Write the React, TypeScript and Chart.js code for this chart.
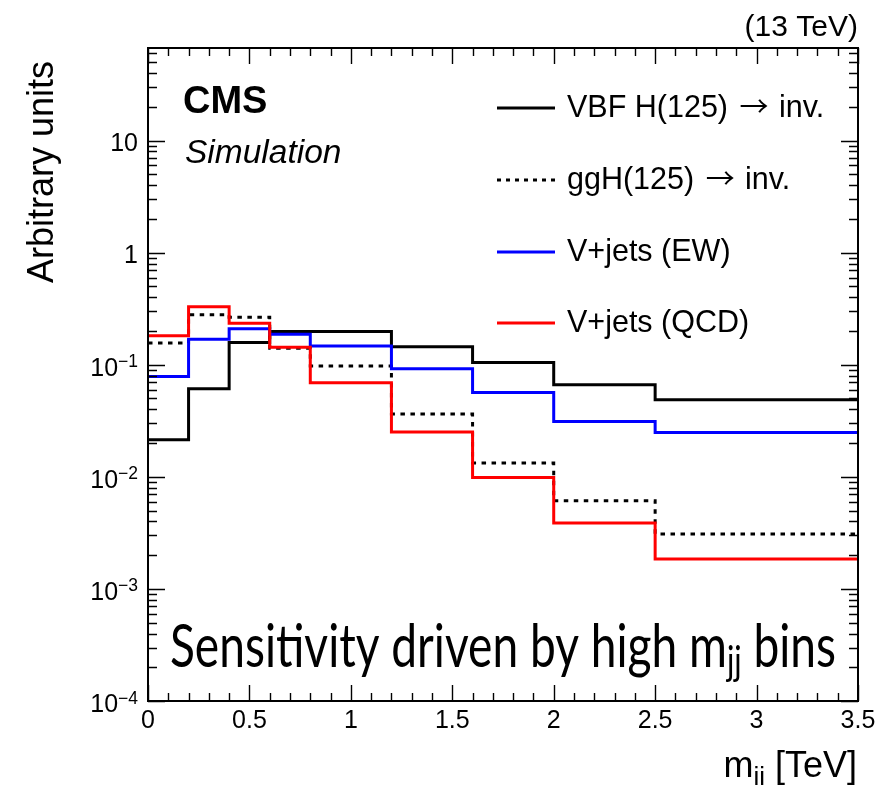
import React, { useEffect, useRef } from "react";
import { Chart, registerables } from "chart.js";

Chart.register(...registerables);

// ---- data ----
const binEdges = [0, 0.2, 0.4, 0.6, 0.8, 1.2, 1.6, 2.0, 2.5, 3.5];
const vbfValues = [0.0214, 0.061, 0.158, 0.198, 0.198, 0.145, 0.105, 0.0662, 0.0487];
const gghValues = [0.156, 0.279, 0.266, 0.14, 0.0977, 0.0363, 0.0133, 0.00612, 0.00309];
const ewValues = [0.0785, 0.169, 0.209, 0.187, 0.147, 0.0919, 0.0566, 0.0312, 0.0249];
const qcdValues = [0.181, 0.33, 0.235, 0.1435, 0.069, 0.0251, 0.00988, 0.00387, 0.00185];
const seriesLabels = ["VBF H(125) \u2192 inv.", "ggH(125) \u2192 inv.", "V+jets (EW)", "V+jets (QCD)"];
const seriesColors = ["#000000", "#000000", "#0000ff", "#ff0000"];
const xTickValues = [0, 0.5, 1, 1.5, 2, 2.5, 3, 3.5];
const xTickLabels = ["0", "0.5", "1", "1.5", "2", "2.5", "3", "3.5"];
const yDecades = [-4, -3, -2, -1, 0, 1];
const xMin = 0;
const xMax = 3.5;
const yMin = 1e-4;
const yMax = 67;

const SANS = "'Liberation Sans', Arial, Helvetica, sans-serif";
const ARROW_FONT = "'Noto Sans CJK JP', 'DejaVu Sans', sans-serif";

function toPoints(vals: number[]) {
  return binEdges.map((x, i) => ({ x, y: vals[Math.min(i, vals.length - 1)] }));
}

// draws text, rendering the arrow glyph in a wider font
function drawLegendText(ctx: CanvasRenderingContext2D, text: string, x: number, y: number, size: number) {
  const parts = text.split("\u2192");
  let cx = x;
  parts.forEach((p, i) => {
    ctx.font = `${size}px ${SANS}`;
    ctx.fillText(p, cx, y);
    cx += ctx.measureText(p).width;
    if (i < parts.length - 1) {
      cx += 3;
      ctx.font = `${size * 0.95}px ${ARROW_FONT}`;
      ctx.fillText("\u2192", cx, y);
      cx += ctx.measureText("\u2192").width + 2;
    }
  });
}

const decorPlugin = {
  id: "decor",
  afterDraw(chart: any) {
    const ctx = chart.ctx as CanvasRenderingContext2D;
    const area = chart.chartArea;
    const xs = chart.scales.x;
    const ys = chart.scales.y;
    ctx.save();
    ctx.fillStyle = "#000";
    ctx.strokeStyle = "#000";

    // frame
    ctx.lineWidth = 2;
    ctx.strokeRect(area.left, area.top, area.right - area.left, area.bottom - area.top);

    // x ticks
    ctx.lineWidth = 1.4;
    ctx.beginPath();
    for (let i = 0; i <= 35; i++) {
      const v = i / 10;
      const px = Math.round(xs.getPixelForValue(v)) + 0.5;
      const len = i % 5 === 0 ? 16 : 8;
      ctx.moveTo(px, area.bottom);
      ctx.lineTo(px, area.bottom - len);
      ctx.moveTo(px, area.top);
      ctx.lineTo(px, area.top + len);
    }
    // y ticks
    for (let d = -4; d <= 1; d++) {
      for (let m = 1; m <= 9; m++) {
        const v = m * Math.pow(10, d);
        if (v > yMax) break;
        const py = Math.round(ys.getPixelForValue(v)) + 0.5;
        const len = m === 1 ? 17 : 9;
        ctx.moveTo(area.left, py);
        ctx.lineTo(area.left + len, py);
        ctx.moveTo(area.right, py);
        ctx.lineTo(area.right - len, py);
      }
    }
    ctx.stroke();

    // x tick labels
    ctx.font = `25px ${SANS}`;
    ctx.textAlign = "center";
    ctx.textBaseline = "alphabetic";
    xTickValues.forEach((v, i) => {
      ctx.fillText(xTickLabels[i], xs.getPixelForValue(v), area.bottom + 27);
    });

    // y tick labels
    const labelRight = area.left - 10;
    yDecades.forEach((d) => {
      const py = ys.getPixelForValue(Math.pow(10, d));
      ctx.textAlign = "right";
      if (d === 0 || d === 1) {
        ctx.font = `25px ${SANS}`;
        ctx.fillText(d === 0 ? "1" : "10", labelRight, py + 10.5);
      } else {
        const exp = "\u2212" + Math.abs(d);
        ctx.font = `17.5px ${SANS}`;
        const ew = ctx.measureText(exp).width;
        ctx.fillText(exp, labelRight, py + 2.5);
        ctx.font = `25px ${SANS}`;
        ctx.fillText("10", labelRight - ew, py + 11);
      }
    });

    // y title
    ctx.save();
    ctx.translate(53, 61);
    ctx.rotate(-Math.PI / 2);
    ctx.font = `36px ${SANS}`;
    ctx.textAlign = "right";
    ctx.fillText("Arbitrary units", 0, 0);
    ctx.restore();

    // x title: m_jj [TeV]
    {
      ctx.textAlign = "left";
      const big = `36px ${SANS}`;
      const small = `26px ${SANS}`;
      ctx.font = big;
      const w1 = ctx.measureText("m").width;
      const w3 = ctx.measureText(" [TeV]").width;
      ctx.font = small;
      const w2 = ctx.measureText("jj").width;
      const total = w1 + w2 + w3;
      let x = 857 - total;
      const base = 777;
      ctx.font = big;
      ctx.fillText("m", x, base);
      x += w1;
      ctx.font = small;
      ctx.fillText("jj", x, base + 8);
      x += w2;
      ctx.font = big;
      ctx.fillText(" [TeV]", x, base);
    }

    // (13 TeV)
    ctx.font = `30px ${SANS}`;
    ctx.textAlign = "right";
    ctx.fillText("(13 TeV)", 858, 36);

    // CMS / Simulation
    ctx.textAlign = "left";
    ctx.font = `bold 38px ${SANS}`;
    ctx.fillText("CMS", 183, 113);
    ctx.font = `italic 33.5px ${SANS}`;
    ctx.fillText("Simulation", 185, 163);

    // legend
    const lineY = [108, 180, 252, 323];
    seriesLabels.forEach((lab, i) => {
      ctx.save();
      ctx.strokeStyle = seriesColors[i];
      ctx.lineWidth = 3;
      if (i === 1) ctx.setLineDash([4, 5]);
      ctx.beginPath();
      ctx.moveTo(497, lineY[i]);
      ctx.lineTo(555, lineY[i]);
      ctx.stroke();
      ctx.restore();
      ctx.textAlign = "left";
      drawLegendText(ctx, lab, 567, lineY[i] + 8.5, 30.5);
    });

    // big annotation
    {
      const mainF = "60px Lato, 'Noto Sans', sans-serif";
      const subF = "40px Lato, 'Noto Sans', sans-serif";
      const p1 = "Sensitivity driven by high m";
      const p2 = "jj";
      const p3 = " bins";
      ctx.font = mainF;
      const a = ctx.measureText(p1).width;
      const c = ctx.measureText(p3).width;
      ctx.font = subF;
      const b = ctx.measureText(p2).width;
      const total = a + b + c;
      const sx = 666 / total;
      ctx.save();
      ctx.translate(170, 667);
      ctx.scale(sx, 1);
      ctx.textAlign = "left";
      ctx.font = mainF;
      ctx.fillText(p1, 0, 0);
      ctx.font = subF;
      ctx.fillText(p2, a, 8);
      ctx.font = mainF;
      ctx.fillText(p3, a + b, 0);
      ctx.restore();
    }

    ctx.restore();
  },
};

export default function App() {
  const ref = useRef<HTMLCanvasElement | null>(null);
  useEffect(() => {
    if (!ref.current) return;
    const seriesValues = [vbfValues, gghValues, ewValues, qcdValues];
    const chart = new Chart(ref.current, {
      type: "line",
      data: {
        datasets: seriesValues.map((vals, i) => ({
          label: seriesLabels[i],
          data: toPoints(vals),
          borderColor: seriesColors[i],
          borderWidth: 3,
          borderDash: i === 1 ? [4.5, 5.5] : [],
          stepped: "before" as const,
          pointRadius: 0,
          fill: false,
          order: 3 - i,
        })),
      },
      options: {
        responsive: false,
        animation: false,
        devicePixelRatio: 1,
        layout: { padding: { left: 148, top: 48, right: 19, bottom: 84 } },
        plugins: { legend: { display: false }, tooltip: { enabled: false }, title: { display: false } },
        scales: {
          x: { type: "linear", min: xMin, max: xMax, display: false },
          y: { type: "logarithmic", min: yMin, max: yMax, display: false },
        },
      },
      plugins: [decorPlugin],
    });
    return () => chart.destroy();
  }, []);
  return (
    <div style={{ position: "absolute", left: 0, top: 0, width: 877, height: 785, background: "#fff" }}>
      <canvas ref={ref} width={877} height={785} />
    </div>
  );
}
